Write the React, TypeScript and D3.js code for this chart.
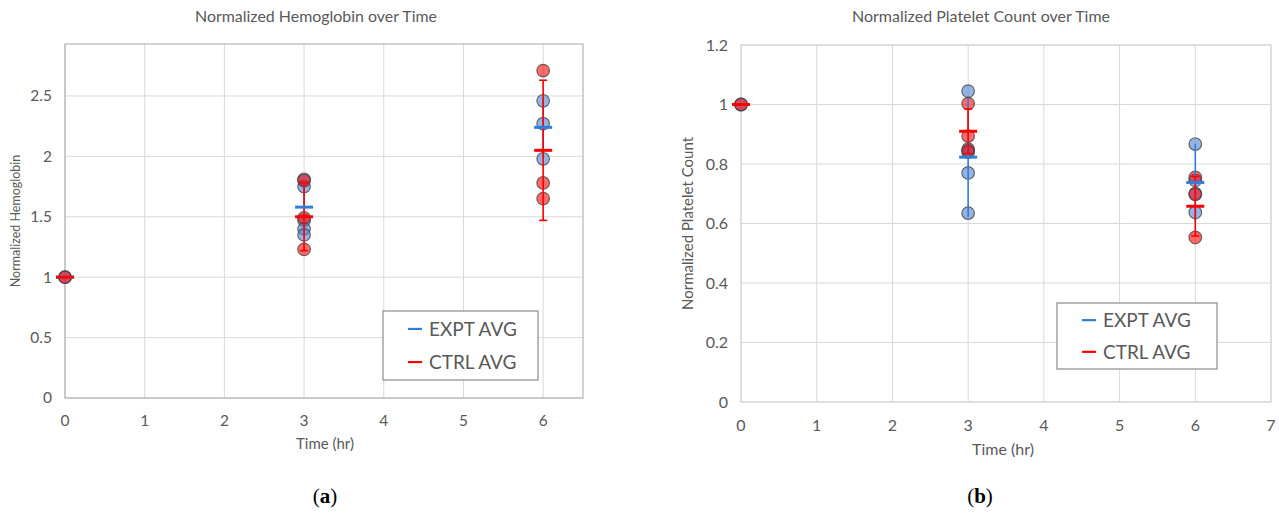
import React from "react";
import * as d3 from "d3";

// ---- data ----
const hbTimes = [0, 3, 6];
const hbExpt = [[1.0], [1.81, 1.75, 1.47, 1.4, 1.35], [2.46, 2.27, 1.98]];
const hbCtrl = [[1.0], [1.8, 1.49, 1.23], [2.71, 1.78, 1.65]];
const hbExptAvg = [1.0, 1.58, 2.24];
const hbExptErr = [0, 0.2, 0.24];
const hbCtrlAvg = [1.0, 1.5, 2.05];
const hbCtrlErr = [0, 0.28, 0.58];
const hbXTicks = [0, 1, 2, 3, 4, 5, 6];
const hbYTicks = [0, 0.5, 1, 1.5, 2, 2.5];

const pltTimes = [0, 3, 6];
const pltExpt = [[1.0], [1.045, 0.85, 0.84, 0.77, 0.635], [0.867, 0.745, 0.7, 0.637]];
const pltCtrl = [[1.0], [1.003, 0.894, 0.845], [0.755, 0.698, 0.553]];
const pltExptAvg = [1.0, 0.823, 0.738];
const pltExptErr = [0, 0.2, 0.13];
const pltCtrlAvg = [1.0, 0.91, 0.658];
const pltCtrlErr = [0, 0.075, 0.1];
const pltXTicks = [0, 1, 2, 3, 4, 5, 6, 7];
const pltYTicks = [0, 0.2, 0.4, 0.6, 0.8, 1.0, 1.2];

const FONT = "Lato, 'Open Sans', sans-serif";
const TXT = "#595959";
const BLUE_PT = "rgba(79,129,209,0.6)";
const RED_PT = "rgba(255,0,0,0.58)";
const BLUE_LINE = "#2f7ed8";
const RED_LINE = "#ff0000";

type PanelProps = {
  x0: number;
  x1: number;
  y0: number;
  y1: number;
  xDomain: [number, number];
  yDomain: [number, number];
  xTicks: number[];
  yTicks: number[];
  times: number[];
  expt: number[][];
  ctrl: number[][];
  exptAvg: number[];
  exptErr: number[];
  ctrlAvg: number[];
  ctrlErr: number[];
  title: string;
  titleX: number;
  titleW: number;
  titleSize: number;
  yLabel: string;
  yLabelX: number;
  yLabelSize: number;
  xLabelX: number;
  xLabelY: number;
  xLabelSize: number;
  tickSize: number;
  tickYOff: number;
  tickXOff: number;
  frame: string;
  legend: { x: number; y: number; w: number; h: number; size: number };
  caption: string;
  captionX: number;
};

function Panel(p: PanelProps) {
  const x = d3.scaleLinear().domain(p.xDomain).range([p.x0, p.x1]);
  const y = d3.scaleLinear().domain(p.yDomain).range([p.y0, p.y1]);
  const fmt = (v: number) => String(+v.toFixed(1));
  const r = 6.3;
  const half = 9;
  const cap = 4;
  const lg = p.legend;

  return (
    <g fontFamily={FONT}>
      <text
        x={p.titleX}
        y={22}
        textAnchor="middle"
        fontSize={p.titleSize}
        fill={TXT}
        textLength={p.titleW}
        lengthAdjust="spacingAndGlyphs"
      >
        {p.title}
      </text>
      {p.xTicks.map((t) => (
        <line key={"vx" + t} x1={x(t)} x2={x(t)} y1={p.y0} y2={p.y1} stroke="#d9d9d9" strokeWidth={1} />
      ))}
      {p.yTicks.map((t) => (
        <line key={"hy" + t} x1={p.x0} x2={p.x1} y1={y(t)} y2={y(t)} stroke="#d9d9d9" strokeWidth={1} />
      ))}
      <rect x={p.x0} y={p.y1} width={p.x1 - p.x0} height={p.y0 - p.y1} fill="none" stroke={p.frame} strokeWidth={1} />
      {p.xTicks.map((t) => (
        <text key={"xt" + t} x={x(t)} y={p.y0 + p.tickYOff} textAnchor="middle" fontSize={p.tickSize} fill={TXT}>
          {t}
        </text>
      ))}
      {p.yTicks.map((t) => (
        <text key={"yt" + t} x={p.x0 - p.tickXOff} y={y(t)} dy="0.35em" textAnchor="end" fontSize={p.tickSize} fill={TXT}>
          {fmt(t)}
        </text>
      ))}
      <text x={p.xLabelX} y={p.xLabelY} textAnchor="middle" fontSize={p.xLabelSize} fill={TXT}>
        Time (hr)
      </text>
      <text
        transform={`translate(${p.yLabelX},${(p.y0 + p.y1) / 2}) rotate(-90)`}
        textAnchor="middle"
        fontSize={p.yLabelSize}
        fill={TXT}
      >
        {p.yLabel}
      </text>

      {p.times.map((t, i) =>
        p.expt[i].map((v, j) => (
          <circle key={`e${i}-${j}`} cx={x(t)} cy={y(v)} r={r} fill={BLUE_PT} stroke="#404040" strokeOpacity={0.75} strokeWidth={1.2} />
        ))
      )}
      {p.times.map((t, i) =>
        p.ctrl[i].map((v, j) => (
          <circle key={`c${i}-${j}`} cx={x(t)} cy={y(v)} r={r} fill={RED_PT} stroke="#404040" strokeOpacity={0.75} strokeWidth={1.2} />
        ))
      )}

      {p.times.map((t, i) =>
        p.exptErr[i] > 0 ? (
          <line key={"eb" + i} x1={x(t)} x2={x(t)} y1={y(p.exptAvg[i] + p.exptErr[i])} y2={y(p.exptAvg[i] - p.exptErr[i])} stroke={BLUE_LINE} strokeWidth={1.6} />
        ) : null
      )}
      {p.times.map((t, i) =>
        p.ctrlErr[i] > 0 ? (
          <g key={"cb" + i} stroke={RED_LINE} strokeWidth={1.6}>
            <line x1={x(t)} x2={x(t)} y1={y(p.ctrlAvg[i] + p.ctrlErr[i])} y2={y(p.ctrlAvg[i] - p.ctrlErr[i])} />
            <line x1={x(t) - cap} x2={x(t) + cap} y1={y(p.ctrlAvg[i] + p.ctrlErr[i])} y2={y(p.ctrlAvg[i] + p.ctrlErr[i])} />
            <line x1={x(t) - cap} x2={x(t) + cap} y1={y(p.ctrlAvg[i] - p.ctrlErr[i])} y2={y(p.ctrlAvg[i] - p.ctrlErr[i])} />
          </g>
        ) : null
      )}
      {p.times.map((t, i) => (
        <line key={"em" + i} x1={x(t) - half} x2={x(t) + half} y1={y(p.exptAvg[i])} y2={y(p.exptAvg[i])} stroke={BLUE_LINE} strokeWidth={3} />
      ))}
      {p.times.map((t, i) => (
        <line key={"cm" + i} x1={x(t) - half} x2={x(t) + half} y1={y(p.ctrlAvg[i])} y2={y(p.ctrlAvg[i])} stroke={RED_LINE} strokeWidth={3} />
      ))}

      <rect x={lg.x} y={lg.y} width={lg.w} height={lg.h} fill="white" stroke="#8c8c8c" strokeWidth={1.2} />
      {[
        { name: "EXPT AVG", c: BLUE_LINE },
        { name: "CTRL AVG", c: RED_LINE },
      ].map((d, k) => {
        const yy = lg.y + lg.h * (k === 0 ? 0.26 : 0.74);
        return (
          <g key={d.name}>
            <line x1={lg.x + 25} x2={lg.x + 39} y1={yy} y2={yy} stroke={d.c} strokeWidth={2.2} />
            <text x={lg.x + 46} y={yy} dy="0.36em" fontSize={lg.size} fill={TXT}>
              {d.name}
            </text>
          </g>
        );
      })}

      <text x={p.captionX} y={503} textAnchor="middle" fontSize={21} fill="#000" fontFamily="'Liberation Serif', 'DejaVu Serif', serif">
        (<tspan fontWeight="bold">{p.caption}</tspan>)
      </text>
    </g>
  );
}

export default function App() {
  return (
    <svg width={1279} height={514} style={{ position: "absolute", left: 0, top: 0, background: "white" }}>
      <Panel
        x0={65}
        x1={583}
        y0={398}
        y1={44}
        xDomain={[0, 6.5]}
        yDomain={[0, 2.93]}
        xTicks={hbXTicks}
        yTicks={hbYTicks}
        times={hbTimes}
        expt={hbExpt}
        ctrl={hbCtrl}
        exptAvg={hbExptAvg}
        exptErr={hbExptErr}
        ctrlAvg={hbCtrlAvg}
        ctrlErr={hbCtrlErr}
        title="Normalized Hemoglobin over Time"
        titleX={316}
        titleW={242}
        titleSize={15}
        yLabel="Normalized Hemoglobin"
        yLabelX={20}
        yLabelSize={12.5}
        xLabelX={325}
        xLabelY={449}
        xLabelSize={15}
        tickSize={15.5}
        tickYOff={28}
        tickXOff={13}
        frame="#a6a6a6"
        legend={{ x: 383, y: 311, w: 155, h: 69, size: 19 }}
        caption="a"
        captionX={325}
      />
      <Panel
        x0={741}
        x1={1271}
        y0={402}
        y1={45}
        xDomain={[0, 7]}
        yDomain={[0, 1.2]}
        xTicks={pltXTicks}
        yTicks={pltYTicks}
        times={pltTimes}
        expt={pltExpt}
        ctrl={pltCtrl}
        exptAvg={pltExptAvg}
        exptErr={pltExptErr}
        ctrlAvg={pltCtrlAvg}
        ctrlErr={pltCtrlErr}
        title="Normalized Platelet Count over Time"
        titleX={981}
        titleW={258}
        titleSize={15}
        yLabel="Normalized Platelet Count"
        yLabelX={693}
        yLabelSize={15}
        xLabelX={1003}
        xLabelY={455}
        xLabelSize={16}
        tickSize={16}
        tickYOff={29}
        tickXOff={13}
        frame="#d0d0d0"
        legend={{ x: 1057, y: 303, w: 160, h: 66, size: 19 }}
        caption="b"
        captionX={980}
      />
    </svg>
  );
}
